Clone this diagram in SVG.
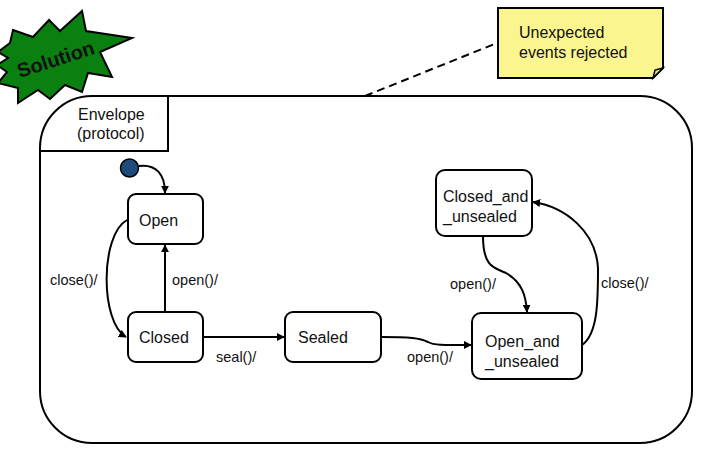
<svg xmlns="http://www.w3.org/2000/svg" width="706" height="450" viewBox="0 0 706 450">
<style>
.st{fill:#fff;stroke:#000;stroke-width:2}
.lb{font-family:"Liberation Sans",Arial,sans-serif;font-size:16px;fill:#111}
.tl{font-family:"Liberation Sans",Arial,sans-serif;font-size:14.5px;fill:#111}
.cn{fill:none;stroke:#000;stroke-width:2;marker-end:url(#ah)}
</style>
<defs>
<marker id="ah" viewBox="0 0 10 10" refX="9" refY="5" markerWidth="4" markerHeight="4" orient="auto" markerUnits="strokeWidth">
<path d="M0,0 L10,5 L0,10 z" fill="#000"/>
</marker>
</defs>
<rect width="706" height="450" fill="#fff"/>
<g id="solution">
<polygon points="13,30 33,37 49,20 60,31 82,11 86,31 132,38 100,52 112,77 88,73 82,92 65,85 50,99 38,90 18,103 18,88 -2,83 7,72 -3,65 8,58 -2,52 10,43" fill="#0a8010" stroke="#000" stroke-width="2" stroke-linejoin="miter"/>
<text x="56" y="66" transform="rotate(-18 56 60)" text-anchor="middle" font-family="Liberation Sans,Arial,sans-serif" font-weight="bold" font-size="20" fill="#111">Solution</text>
</g>
<g id="envelope">
<rect x="40" y="96" width="652" height="347" rx="52" ry="52" fill="none" stroke="#000" stroke-width="2"/>
<path d="M40,151 H168 V96" fill="none" stroke="#000" stroke-width="2"/>
<text class="lb" x="78" y="120" font-size="15">Envelope</text>
<text class="lb" x="77" y="139" font-size="15">(protocol)</text>
</g>
<g id="note">
<path d="M498,8 H663 V68 L653,78 H498 Z" fill="#fbf590" stroke="#000" stroke-width="2"/>
<path d="M663,68 L653,78 L655,70 Z" fill="#e6de70" stroke="#000" stroke-width="1.5"/>
<text class="lb" x="519" y="38" font-size="15">Unexpected</text>
<text class="lb" x="519" y="58" font-size="15">events rejected</text>
</g>
<g id="initial"><circle cx="129.5" cy="168" r="9" fill="#1f4a7c" stroke="#000" stroke-width="1.5"/></g>
<g id="open"><rect class="st" x="128" y="194" width="75" height="50" rx="8"/><text class="lb" x="139" y="226">Open</text></g>
<g id="closed"><rect class="st" x="128" y="312" width="75" height="50" rx="8"/><text class="lb" x="139" y="343">Closed</text></g>
<g id="sealed"><rect class="st" x="285" y="312" width="96" height="50" rx="8"/><text class="lb" x="298" y="343">Sealed</text></g>
<g id="open_and_unsealed"><rect class="st" x="472" y="313" width="110" height="66" rx="9"/><text class="lb" x="485" y="347">Open_and</text><text class="lb" x="485" y="367">_unsealed</text></g>
<g id="closed_and_unsealed"><rect class="st" x="436" y="170" width="96" height="66" rx="9"/><text class="lb" x="443" y="202">Closed_and</text><text class="lb" x="443" y="222">_unsealed</text></g>
<g id="connectors">
<path class="cn" d="M139,166 C156,164 165,174 165,193"/>
<path class="cn" d="M127,220 C100,235 100,322 126,337"/>
<path class="cn" d="M165,312 V245"/>
<path class="cn" d="M203,337 H284"/>
<path class="cn" d="M381,337 C410,337 420,338 428,342 C435,346 450,345 471,345"/>
<path class="cn" d="M483,236 C483,268 495,268 506,273 C522,282 526,296 527,312"/>
<path class="cn" d="M582,345 C598,334 598,300 598,268 C596,232 566,207 533,202"/>
<text class="tl" x="50" y="285">close()/</text>
<text class="tl" x="172" y="285">open()/</text>
<text class="tl" x="216" y="362">seal()/</text>
<text class="tl" x="407" y="362">open()/</text>
<text class="tl" x="450" y="289">open()/</text>
<text class="tl" x="601" y="288">close()/</text>
<path d="M365,96 L497,43" fill="none" stroke="#000" stroke-width="2" stroke-dasharray="8,5"/>
</g>
</svg>
